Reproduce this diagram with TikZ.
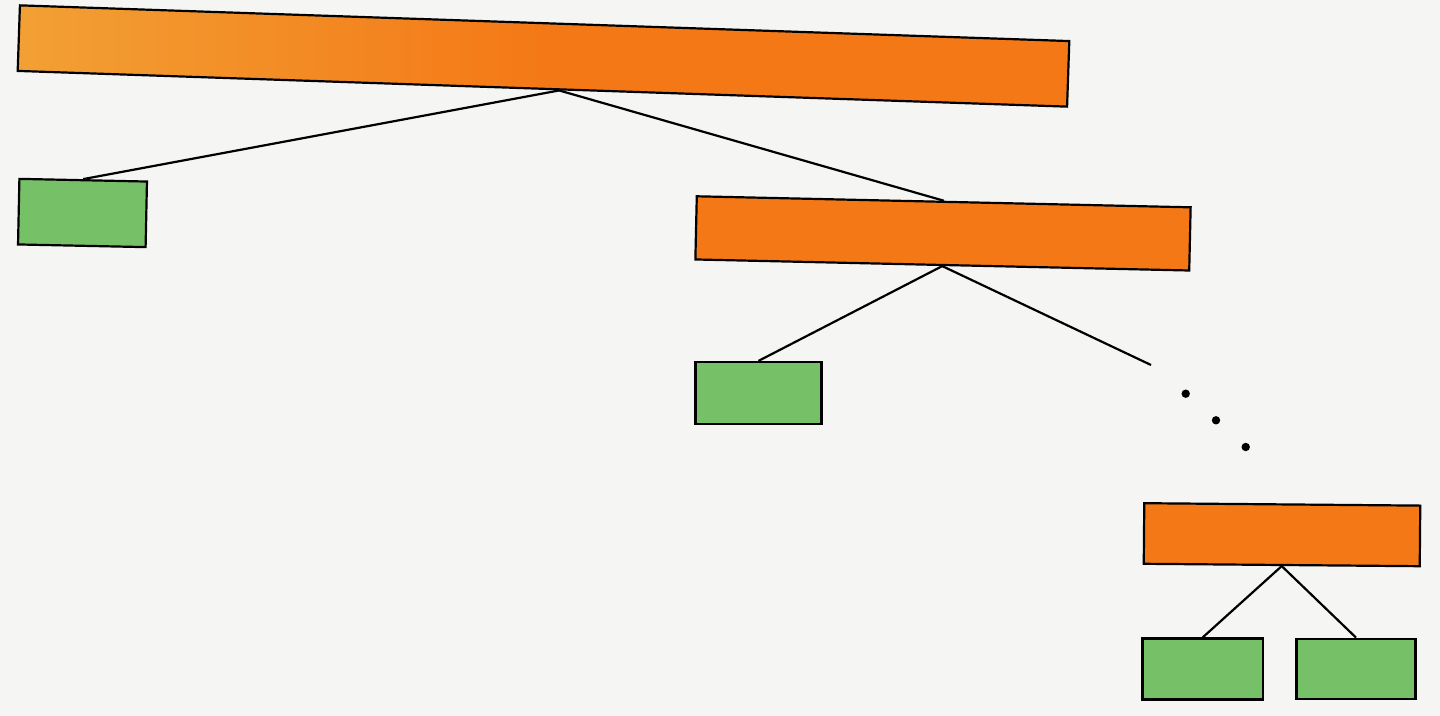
\documentclass[tikz,border=0pt]{standalone}
\usetikzlibrary{calc}
\definecolor{orangebox}{RGB}{244,120,22}
\definecolor{orangelight}{RGB}{242,160,52}
\definecolor{greenbox}{RGB}{118,192,104}
\definecolor{paper}{RGB}{245,245,243}
\tikzset{
  box/.style={draw=black, line width=1.1pt, inner sep=0pt, rectangle},
  orangebar/.style={box, fill=orangebox},
  greenbox/.style={box, fill=greenbox},
  link/.style={draw=black, line width=1.1pt},
  dotmark/.style={circle, fill=black, inner sep=0pt, minimum size=4.2pt}
}
\begin{document}
\begin{tikzpicture}[x=0.5pt,y=-0.5pt]
\fill[paper] (0,0) rectangle (1440,716);
\useasboundingbox (0,0) rectangle (1440,716);
% top bar
\node[box, left color=orangelight, right color=orangebox, middle color=orangebox, minimum width=525pt, minimum height=32.8pt, rotate=-1.95] (top) at (543.5,56) {};
% level 1
\node[greenbox, minimum width=63.8pt, minimum height=32.8pt, rotate=-1.2] (g1) at (82.5,213) {};
\node[orangebar, minimum width=247pt, minimum height=31.6pt, rotate=-1.28] (o2) at (943,233.4) {};
% level 2
\node[greenbox, minimum width=63pt, minimum height=31pt] (g2) at (758.5,393) {};
\coordinate (free) at (1151,365);
% dots
\node[dotmark] (d1) at (1185.7,393.7) {};
\node[dotmark] (d2) at (1216,420.3) {};
\node[dotmark] (d3) at (1245.7,447) {};
% bottom level
\node[orangebar, minimum width=138pt, minimum height=30.3pt, rotate=-0.5] (o3) at (1282,534.7) {};
\node[greenbox, minimum width=60.3pt, minimum height=30.5pt] (g3) at (1202.7,669) {};
\node[greenbox, minimum width=59.5pt, minimum height=30pt] (g4) at (1356,668.7) {};
% connectors
\coordinate (topb) at ($(top.south west)!0.516!(top.south east)$);
\draw[link] (topb) -- (g1.north);
\draw[link] (topb) -- (o2.north);
\draw[link] (o2.south) -- (g2.north);
\draw[link] (o2.south) -- (free);
\draw[link] (o3.south) -- (g3.north);
\draw[link] (o3.south) -- (g4.north);
\end{tikzpicture}
\end{document}
